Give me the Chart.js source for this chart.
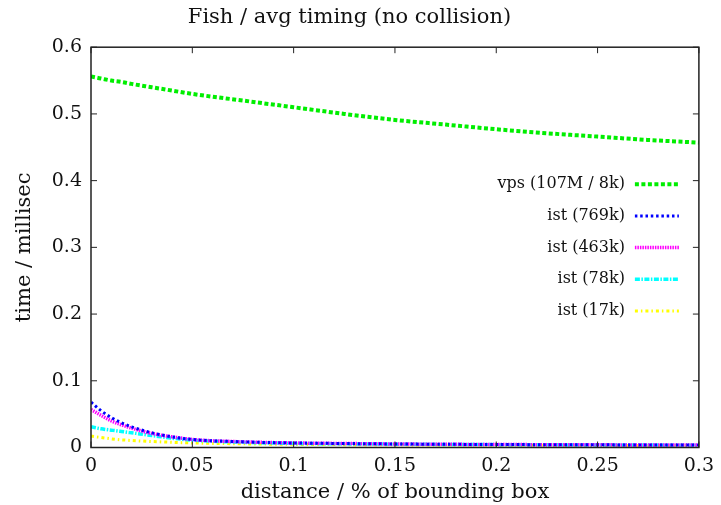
<!DOCTYPE html>
<html>
<head>
<meta charset="utf-8">
<script src="https://cdn.jsdelivr.net/npm/chart.js@4.4.0/dist/chart.umd.min.js"></script>
<style>
  html, body { margin: 0; padding: 0; background: #fff; }
</style>
</head>
<body>
<canvas id="chart" width="721" height="505"></canvas>
<script>
// distances (fraction of bounding box)
const distances = [0, 0.005, 0.01, 0.015, 0.02, 0.03, 0.04, 0.05, 0.075, 0.1, 0.125, 0.15, 0.175, 0.2, 0.225, 0.25, 0.275, 0.3]

// average timing per method, milliseconds
const vps107M = [0.556, 0.553, 0.550, 0.548, 0.545, 0.540, 0.535, 0.530, 0.520, 0.510, 0.500, 0.491, 0.484, 0.477, 0.471, 0.466, 0.461, 0.457]
const ist769k = [0.068, 0.055, 0.045, 0.037, 0.031, 0.022, 0.016, 0.012, 0.0085, 0.0068, 0.006, 0.0053, 0.0048, 0.0045, 0.0042, 0.004, 0.0038, 0.0037]
const ist463k = [0.057, 0.048, 0.040, 0.034, 0.029, 0.021, 0.016, 0.012, 0.0085, 0.0068, 0.006, 0.0053, 0.0048, 0.0045, 0.0042, 0.004, 0.0038, 0.0037]
const ist78k = [0.031, 0.028, 0.026, 0.024, 0.022, 0.018, 0.014, 0.011, 0.0078, 0.0062, 0.0055, 0.005, 0.0046, 0.0043, 0.004, 0.0038, 0.0036, 0.0035]
const ist17k = [0.017, 0.015, 0.013, 0.0115, 0.0105, 0.009, 0.0078, 0.0068, 0.0055, 0.0047, 0.0043, 0.004, 0.0037, 0.0035, 0.0033, 0.0031, 0.003, 0.003]

const seriesLabels = ["vps (107M / 8k)", "ist (769k)", "ist (463k)", "ist (78k)", "ist (17k)"]
const seriesValues = [vps107M, ist769k, ist463k, ist78k, ist17k]
const seriesColors = ["#00ee00", "#0000ff", "#ff00ff", "#00ffff", "#ffff00"]
const seriesDashes = [[4, 2.5], [2.5, 2.8], [1.5, 1], [5, 1.5, 1.5, 1.5], [3, 3, 1.5, 3]]
const seriesWidths = [4, 3, 3.5, 3.5, 3]

const FONT = "'DejaVu Serif', 'Liberation Serif', serif"

function toPoints(values) {
  return distances.map((d, i) => ({ x: d, y: values[i] }))
}

// cadre + graduations vers l'intérieur, façon gnuplot
const frame = {
  id: "frame",
  afterDatasetsDraw(chart) {
    const { ctx, chartArea: a, scales } = chart
    ctx.save()
    ctx.strokeStyle = "#222"
    ctx.lineWidth = 1.5
    ctx.strokeRect(a.left, a.top, a.right - a.left, a.bottom - a.top)
    ctx.lineWidth = 1
    const len = 6
    scales.x.ticks.forEach((t) => {
      const px = scales.x.getPixelForValue(t.value)
      ctx.beginPath()
      ctx.moveTo(px, a.bottom); ctx.lineTo(px, a.bottom - len)
      ctx.moveTo(px, a.top); ctx.lineTo(px, a.top + len)
      ctx.stroke()
    })
    scales.y.ticks.forEach((t) => {
      const py = scales.y.getPixelForValue(t.value)
      ctx.beginPath()
      ctx.moveTo(a.left, py); ctx.lineTo(a.left + len, py)
      ctx.moveTo(a.right, py); ctx.lineTo(a.right - len, py)
      ctx.stroke()
    })
    ctx.restore()
  }
}

// légende à droite, texte puis échantillon de ligne
const keyBox = {
  id: "keyBox",
  afterDraw(chart) {
    const { ctx, chartArea: a } = chart
    ctx.save()
    ctx.font = "16px " + FONT
    ctx.textAlign = "right"
    ctx.textBaseline = "middle"
    chart.data.datasets.forEach((ds, i) => {
      const y = a.top + 137 + i * 31.7
      ctx.fillStyle = "#111"
      ctx.fillText(ds.label, a.right - 74, y)
      ctx.strokeStyle = ds.borderColor
      ctx.lineWidth = ds.borderWidth
      ctx.setLineDash(ds.borderDash)
      ctx.beginPath()
      ctx.moveTo(a.right - 64, y)
      ctx.lineTo(a.right - 20, y)
      ctx.stroke()
    })
    ctx.restore()
  }
}

const datasets = seriesLabels.map((label, i) => ({
  label: label,
  data: toPoints(seriesValues[i]),
  borderColor: seriesColors[i],
  borderWidth: seriesWidths[i],
  borderDash: seriesDashes[i],
  pointRadius: 0,
  fill: false,
  cubicInterpolationMode: "monotone",
}))

new Chart(document.getElementById("chart").getContext("2d"), {
  type: "line",
  data: { datasets: datasets },
  options: {
    responsive: false,
    animation: false,
    layout: { padding: { left: 0, right: 22, top: 0, bottom: 0 } },
    plugins: {
      legend: { display: false },
      tooltip: { enabled: false },
      title: {
        display: true,
        text: "Fish / avg timing (no collision)",
        color: "#111",
        font: { family: FONT, size: 21, weight: "normal" },
        padding: { top: 5, bottom: 17 },
      },
    },
    scales: {
      x: {
        type: "linear",
        min: 0,
        max: 0.3,
        grid: { display: false, drawTicks: false },
        border: { display: false },
        ticks: {
          stepSize: 0.05,
          padding: 7,
          color: "#111",
          font: { family: FONT, size: 19 },
          maxRotation: 0,
          callback: (v) => String(+v.toFixed(2)),
        },
        title: {
          display: true,
          text: "distance / % of bounding box",
          color: "#111",
          font: { family: FONT, size: 21 },
          padding: { top: 5, bottom: 0 },
        },
        afterFit(scale) { scale.height = 57.5 },
      },
      y: {
        min: 0,
        max: 0.6,
        grid: { display: false, drawTicks: false },
        border: { display: false },
        ticks: {
          stepSize: 0.1,
          padding: 9,
          color: "#111",
          font: { family: FONT, size: 19 },
          callback: (v) => String(+v.toFixed(1)),
        },
        title: {
          display: true,
          text: "time / millisec",
          color: "#111",
          font: { family: FONT, size: 21 },
          padding: { top: 12, bottom: 0 },
        },
        afterFit(scale) { scale.width = 91 },
      },
    },
  },
  plugins: [frame, keyBox],
})
</script>
</body>
</html>
